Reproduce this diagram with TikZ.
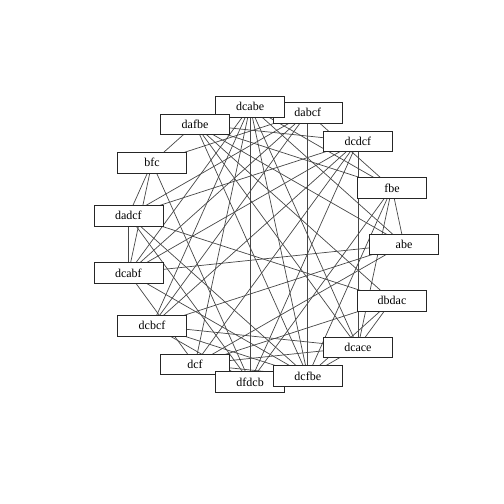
\documentclass[tikz,border=0pt]{standalone}
\usepackage{fontspec}
\setmainfont{Liberation Serif}
\usetikzlibrary{backgrounds}

\begin{document}
\begin{tikzpicture}[x=1pt, y=-1pt,
  vbox/.style={draw=black!85, fill=white, line width=0.7pt, minimum width=69pt, minimum height=20.7pt, inner sep=0pt, font=\fontsize{12}{12}\selectfont},
  link/.style={draw=black!72, line width=0.7pt}]

\useasboundingbox (0,0) rectangle (504,504);

% vertices, in circle order
\node[vbox] (abe)   at (404.0,244.3) {abe};
\node[vbox] (fbe)   at (392.0,187.9) {fbe};
\node[vbox] (dcdcf) at (357.9,141.3) {dcdcf};
\node[vbox] (dabcf) at (307.8,112.5) {dabcf};
\node[vbox] (dcabe) at (250.1,106.5) {dcabe};
\node[vbox] (dafbe) at (195.0,124.3) {dafbe};
\node[vbox] (bfc)   at (152.0,162.8) {bfc};
\node[vbox] (dadcf) at (128.4,215.5) {dadcf};
\node[vbox] (dcabf) at (128.4,273.0) {dcabf};
\node[vbox] (dcbcf) at (152.0,325.7) {dcbcf};
\node[vbox] (dcf)   at (195.0,364.2) {dcf};
\node[vbox] (dfdcb) at (250.1,382.0) {dfdcb};
\node[vbox] (dcfbe) at (307.8,376.0) {dcfbe};
\node[vbox] (dcace) at (357.9,347.2) {dcace};
\node[vbox] (dbdac) at (392.0,300.6) {dbdac};

% edges, behind the boxes
\begin{scope}[on background layer]
\fill[white] (0,0) rectangle (504,504);
\foreach \a/\b in {abe/fbe, abe/dcabf, abe/dafbe, abe/dcf, abe/dcbcf, abe/dcabe,
  fbe/dcace, fbe/dabcf, fbe/dcabe, fbe/dafbe, fbe/dfdcb, fbe/dcfbe,
  dcdcf/dcace, dcdcf/dafbe, dcdcf/dadcf, dcdcf/dcabf, dcdcf/dcbcf, dcdcf/dcf, dcdcf/dfdcb,
  dabcf/dcfbe, dabcf/bfc, dabcf/dadcf, dabcf/dcabf, dabcf/dcbcf,
  dcabe/dfdcb, dcabe/dcabf, dcabe/dcbcf, dcabe/dcf, dcabe/dcace, dcabe/dcfbe,
  dafbe/bfc, dafbe/dbdac, dafbe/dcace, dafbe/dcfbe,
  bfc/dadcf, bfc/dcabf, bfc/dfdcb,
  dadcf/dcabf, dadcf/dbdac, dadcf/dcfbe, dadcf/dfdcb,
  dcabf/dcfbe, dcabf/dcf,
  dcbcf/dcace, dcbcf/dcfbe, dcbcf/dfdcb,
  dcf/dcace, dcf/dcfbe, dcf/dbdac,
  dcfbe/dcace, dcfbe/dbdac, dbdac/dcace}
  \draw[link] (\a.center) -- (\b.center);
\end{scope}

\end{tikzpicture}
\end{document}
